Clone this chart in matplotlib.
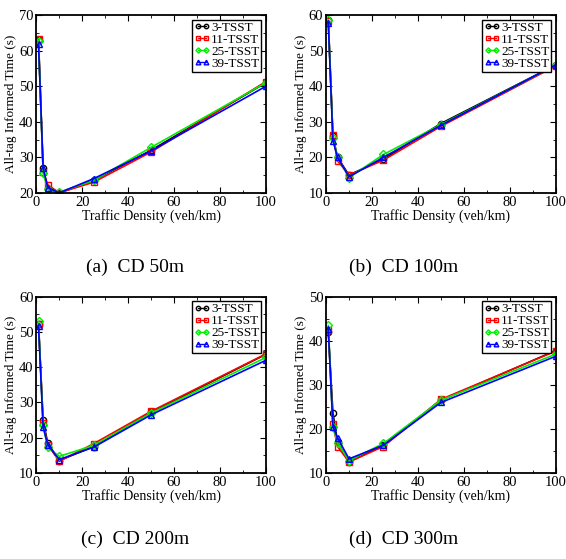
import numpy as np
import matplotlib.pyplot as plt
from matplotlib.ticker import MultipleLocator

plt.rcParams['font.family'] = ['Liberation Serif', 'DejaVu Serif']
plt.rcParams['mathtext.fontset'] = 'stix'

density = [1, 3, 5, 10, 25, 50, 100]
series_names = ['3-TSST', '11-TSST', '25-TSST', '39-TSST']

# panel (a) CD 50m
a_3 = [63.0, 27.0, 21.0, 20.0, 23.5, 32.0, 51.0]
a_11 = [63.2, 26.0, 22.3, 20.0, 23.0, 31.5, 51.3]
a_25 = [62.8, 25.5, 21.0, 20.2, 23.5, 32.8, 51.0]
a_39 = [61.8, 27.0, 21.5, 20.0, 24.0, 31.8, 50.0]

# panel (b) CD 100m
b_3 = [58.5, 26.0, 20.0, 15.0, 19.5, 29.5, 46.0]
b_11 = [58.3, 26.2, 19.0, 15.0, 19.2, 28.7, 45.7]
b_25 = [58.6, 25.5, 20.0, 14.3, 20.8, 29.2, 45.9]
b_39 = [57.8, 24.7, 20.0, 14.5, 20.0, 29.0, 46.0]

# panel (c) CD 200m
c_3 = [52.3, 25.0, 18.5, 13.5, 17.5, 27.2, 43.7]
c_11 = [52.3, 24.2, 18.0, 13.3, 18.3, 27.5, 43.8]
c_25 = [53.0, 23.5, 17.3, 14.7, 17.8, 27.0, 42.8]
c_39 = [51.8, 23.0, 18.0, 13.8, 17.3, 26.5, 42.0]

# panel (d) CD 300m
d_3 = [42.0, 23.7, 17.0, 12.5, 16.3, 26.5, 37.8]
d_11 = [42.5, 21.0, 16.0, 12.5, 16.0, 26.7, 37.7]
d_25 = [43.5, 20.5, 16.8, 12.8, 16.7, 26.5, 37.0]
d_39 = [42.7, 20.5, 18.0, 13.2, 16.3, 26.0, 36.5]

captions = ['(a)  CD 50m', '(b)  CD 100m', '(c)  CD 200m', '(d)  CD 300m']
ylims = [(20, 70), (10, 60), (10, 60), (10, 50)]
panels = [[a_3, a_11, a_25, a_39], [b_3, b_11, b_25, b_39],
          [c_3, c_11, c_25, c_39], [d_3, d_11, d_25, d_39]]

colors = ['black', 'red', '#00ee00', 'blue']
markers = ['o', 's', 'D', '^']
msizes = [4.5, 4.5, 3.8, 4.8]

fig = plt.figure(figsize=(5.66, 5.59), dpi=100)
positions = [[0.064, 0.655, 0.406, 0.318], [0.576, 0.655, 0.406, 0.318],
             [0.064, 0.154, 0.406, 0.315], [0.576, 0.154, 0.406, 0.315]]
cap_xy = [(0.2385, 0.522), (0.714, 0.522), (0.2385, 0.036), (0.714, 0.036)]

for i in range(4):
    ax = fig.add_axes(positions[i])
    for j in range(4):
        ax.plot(density, panels[i][j], color=colors[j], marker=markers[j],
                markersize=msizes[j], markerfacecolor='none',
                markeredgewidth=1.0, linewidth=1.2, label=series_names[j])
    ax.set_xlim(0, 100)
    ax.set_ylim(*ylims[i])
    ax.xaxis.set_major_locator(MultipleLocator(20))
    ax.xaxis.set_minor_locator(MultipleLocator(10))
    ax.yaxis.set_major_locator(MultipleLocator(10))
    ax.yaxis.set_minor_locator(MultipleLocator(5))
    ax.tick_params(which='both', direction='in', top=True, right=True,
                   labelsize=10.5, pad=2)
    ax.tick_params(which='major', length=4)
    ax.tick_params(which='minor', length=2)
    for s in ax.spines.values():
        s.set_linewidth(1.3)
    ax.set_xlabel('Traffic Density (veh/km)', fontsize=10, labelpad=0)
    ax.set_ylabel('All-tag Informed Time (s)', fontsize=9.5, labelpad=1)
    leg = ax.legend(loc='upper right', fontsize=9.5, numpoints=2,
                    markerscale=0.7, handlelength=1.2, handleheight=0.5,
                    handletextpad=0.1, labelspacing=0.0,
                    borderpad=0.15, borderaxespad=0.35, fancybox=False,
                    framealpha=1)
    leg.get_frame().set_edgecolor('black')
    leg.get_frame().set_linewidth(1.0)
    for line in leg.get_lines():
        line.set_linewidth(1.0)
    fig.text(cap_xy[i][0], cap_xy[i][1], captions[i], ha='center',
             va='center', fontsize=14)

fig.savefig('out.png', dpi=100)
